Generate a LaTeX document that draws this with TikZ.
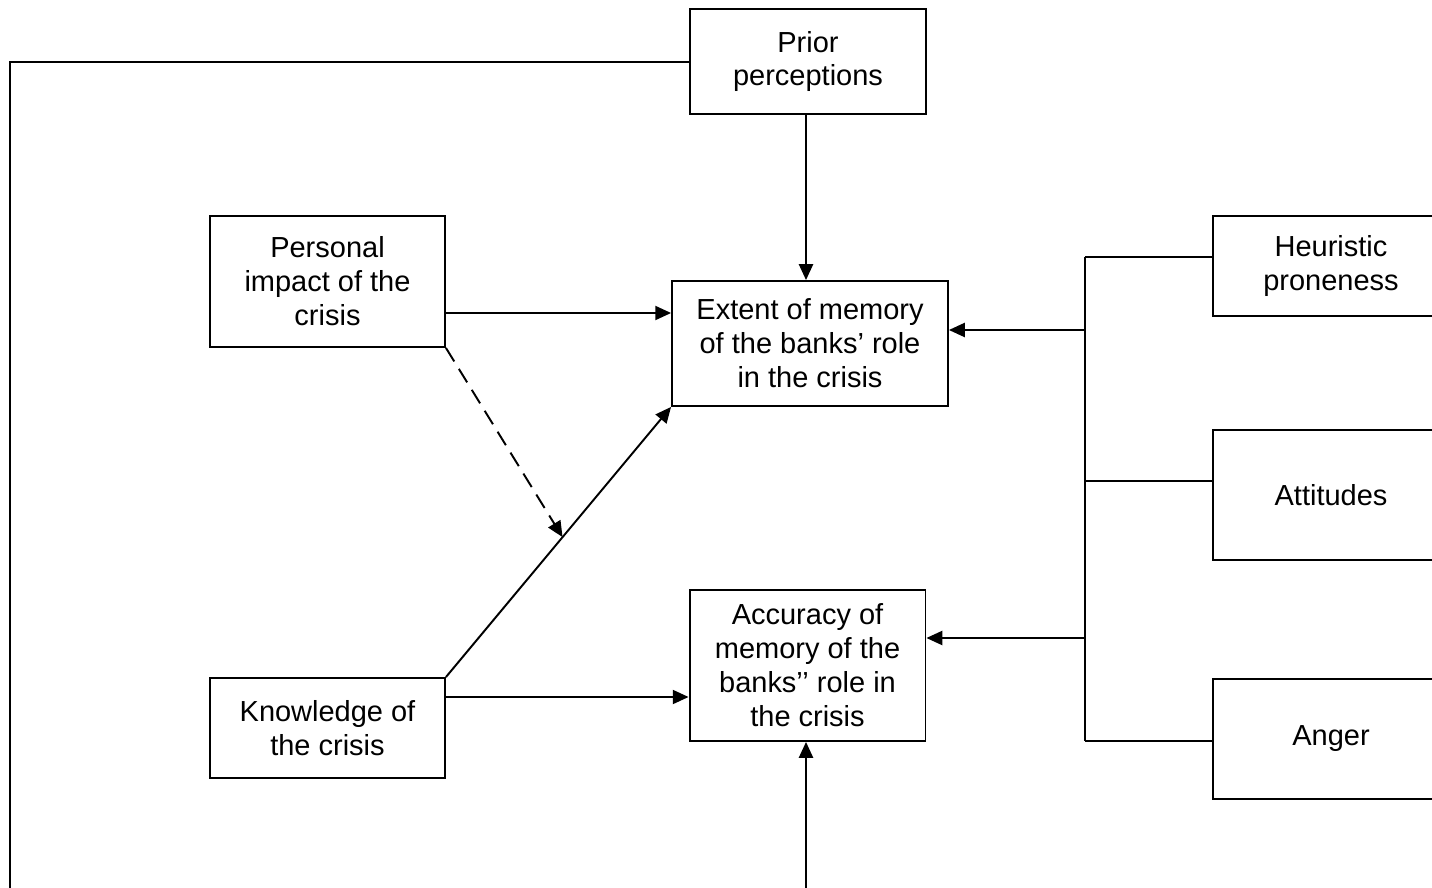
\documentclass[tikz,border=0pt]{standalone}
\usepackage{fontspec}
\setmainfont{Liberation Sans}
\usetikzlibrary{arrows.meta,calc}
\begin{document}
\begin{tikzpicture}[x=0.02cm,y=-0.02cm,
  box/.style={draw,line width=1.1pt,align=center,inner sep=0pt,
    font=\fontsize{16.5pt}{19.3pt}\selectfont},
  ln/.style={line width=1.1pt},
  arr/.style={line width=1.1pt,-{Triangle[length=9pt,width=8pt]}},
  darr/.style={line width=1.1pt,dash pattern=on 9pt off 5pt,-{Triangle[length=9pt,width=8pt]}}]
\useasboundingbox (0,0) rectangle (1432,888);
\clip (0,0) rectangle (1432,888);
\fill[white] (0,0) rectangle (1432,888);
\node[box,minimum width=4.72cm,minimum height=2.1cm] (prior) at (808,61.5) {Prior\\perceptions};
\node[box,minimum width=4.7cm,minimum height=2.62cm] (pers) at (327.5,281.5) {Personal\\impact of the\\crisis};
\node[box,minimum width=5.52cm,minimum height=2.5cm] (ext) at (810,343.5) {Extent of memory\\of the banks’ role\\in the crisis};
\node[box,minimum width=4.72cm,minimum height=3.02cm] (acc) at (807.5,665.5) {Accuracy of\\memory of the\\banks’’ role in\\the crisis};
\node[box,minimum width=4.7cm,minimum height=2.0cm] (know) at (327.5,728) {Knowledge of\\the crisis};
\node[box,minimum width=4.72cm,minimum height=2.0cm] (heur) at (1331,266) {Heuristic\\proneness};
\node[box,minimum width=4.72cm,minimum height=2.6cm] (att) at (1331,495) {Attitudes};
\node[box,minimum width=4.72cm,minimum height=2.4cm] (ang) at (1331,739) {Anger};
\coordinate (bustop) at (1085,257);
\coordinate (busbot) at (1085,741);
\coordinate (loopc) at (10,62);
\coordinate (loopb) at (10,900);
\coordinate (botin) at (806,900);
% left loop
\draw[ln] (prior.west |- loopc) -- (loopc) -- (loopb);
\draw[arr] (botin) -- (acc.south -| botin);
% prior -> extent
\draw[arr] (prior.south -| 806,0) -- (ext.north -| 806,0);
% personal -> extent
\draw[arr] (pers.east |- 0,313) -- (ext.west |- 0,313);
% knowledge -> extent (diagonal)
\draw[arr] (know.north east) -- (ext.south west);
\coordinate (mid) at ($(know.north east)!0.518!(ext.south west)$);
\draw[darr] (pers.south east) -- (mid);
% knowledge -> accuracy
\draw[arr] (know.east |- 0,697) -- (acc.west |- 0,697);
% right bus
\draw[ln] (bustop) -- (busbot);
\draw[ln] (bustop) -- (heur.west |- bustop);
\draw[ln] (1085,481) -- (att.west |- 0,481);
\draw[ln] (busbot) -- (ang.west |- busbot);
\draw[arr] (1085,330) -- (ext.east |- 0,330);
\draw[arr] (1085,638) -- (acc.east |- 0,638);
\end{tikzpicture}
\end{document}
